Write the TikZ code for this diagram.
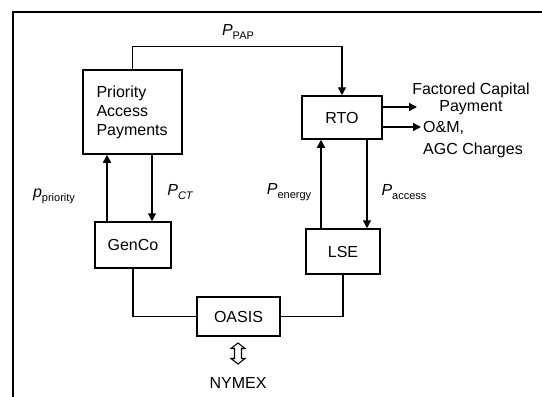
\documentclass[tikz,border=0pt]{standalone}
\usepackage{fontspec}
\setmainfont{Liberation Sans}
\usetikzlibrary{arrows.meta,calc}
\newcommand{\lbl}[2]{\textit{#1}\raisebox{-0.45ex}{\fontsize{11}{11}\selectfont #2}}
\begin{document}
\begin{tikzpicture}[x=1pt,y=-1pt,
  box/.style={draw,line width=1.5pt,inner sep=0pt,font=\fontsize{16}{19}\selectfont},
  txt/.style={inner sep=0pt,font=\fontsize{16}{19}\selectfont},
  lab/.style={inner sep=0pt,font=\fontsize{16}{19}\selectfont},
  conn/.style={line width=1.4pt},
  arr/.style={line width=1.4pt,-{Triangle[length=8pt,width=8pt]}}]
\useasboundingbox (0,0) rectangle (542,397);
% frame
\draw[line width=1.8pt] (13,397) -- (13,12) -- (542,12);
% boxes
\node[box,minimum width=99pt,minimum height=84pt,text width=72pt,align=left] (pap) at (132.5,112) {Priority\\Access\\Payments};
\node[box,minimum width=80pt,minimum height=43pt] (rto) at (342,117.5) {RTO};
\node[box,minimum width=76pt,minimum height=46pt] (genco) at (133,245) {GenCo};
\node[box,minimum width=74pt,minimum height=45pt] (lse) at (343,251.5) {LSE};
\node[box,minimum width=83pt,minimum height=39pt] (oasis) at (238.5,316.5) {OASIS};
% PAP -> RTO
\draw[arr] (pap.north) -- ++(0,-23) -| (rto.north);
\node[lab] (ppap) at (238,32) {\lbl{P}{PAP}};
% GenCo <-> PAP
\draw[arr] ([xshift=-26pt]genco.north) -- ([xshift=-26pt]genco.north |- pap.south);
\draw[arr] ([xshift=19pt]genco.north |- pap.south) -- ([xshift=19pt]genco.north);
\node[lab] (ppri) at (54,196) {\lbl{p}{priority}};
\node[lab] (pct) at (180,192) {\textit{P}\raisebox{-0.45ex}{\fontsize{11}{11}\selectfont\itshape CT}};
% LSE <-> RTO
\draw[arr] ([xshift=-22pt]lse.north) -- ([xshift=-22pt]lse.north |- rto.south);
\draw[arr] ([xshift=24pt]lse.north |- rto.south) -- ([xshift=24pt]lse.north);
\node[lab] (pen) at (289,192) {\lbl{P}{energy}};
\node[lab] (pacc) at (404,192) {\lbl{P}{access}};
% GenCo, LSE to OASIS
\draw[conn] (genco.south) |- (oasis.west);
\draw[conn] (lse.south) |- (oasis.east);
% RTO outputs
\coordinate (o1) at (382,107);
\coordinate (o2) at (382,127);
\coordinate (e1) at (417,107);
\coordinate (e2) at (421,127);
\draw[arr] (o1) -- (e1);
\draw[arr] (o2) -- (e2);
\node[txt] (fc1) at (471,90) {Factored Capital};
\node[txt] (fc2) at (471,108) {Payment};
\node[txt,anchor=west] (om1) at (423,128) {O\&M,};
\node[txt,anchor=west] (om2) at (423,150) {AGC Charges};
% NYMEX open double arrow
\draw[line width=1.1pt,line join=miter] (238,343) -- (245,348.5) -- (241.5,348.5) -- (241.5,358.5) -- (245,358.5) -- (238,364) -- (231,358.5) -- (234.5,358.5) -- (234.5,348.5) -- (231,348.5) -- cycle;
\node[txt] (nymex) at (238,383) {NYMEX};
\end{tikzpicture}
\end{document}
